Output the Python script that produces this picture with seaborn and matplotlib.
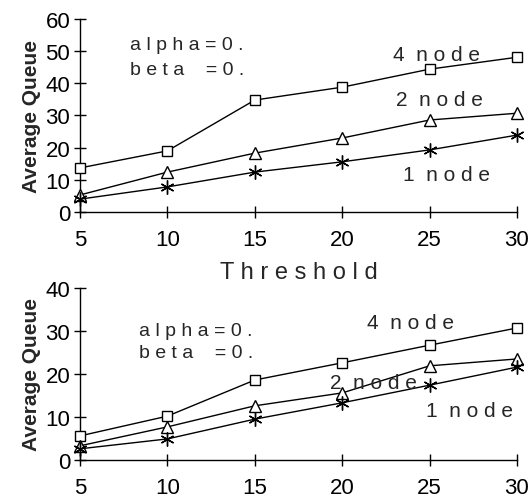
import matplotlib
matplotlib.use("Agg")
import matplotlib.pyplot as plt
import seaborn as sns
import pandas as pd

sns.set_style("ticks")
plt.rcParams['font.family'] = ['Liberation Sans', 'DejaVu Sans']

# data
threshold = [5, 10, 15, 20, 25, 30]

top_4node = [13.7, 19.0, 34.8, 38.8, 44.4, 48.1]
top_2node = [5.3, 12.4, 18.3, 23.0, 28.6, 30.7]
top_1node = [4.0, 7.8, 12.4, 15.6, 19.3, 23.9]

bot_4node = [5.6, 10.2, 18.6, 22.6, 26.7, 30.7]
bot_2node = [3.3, 7.7, 12.6, 15.6, 21.9, 23.5]
bot_1node = [2.6, 4.9, 9.5, 13.3, 17.4, 21.6]

star6 = (6, 2, 0)
markers = {'4 node': 's', '2 node': '^', '1 node': star6}
msize = {'4 node': 7.5, '2 node': 8.5, '1 node': 10}


def draw(ax, s4, s2, s1, ymax, labels, params):
    df = pd.DataFrame({
        'Threshold': threshold * 3,
        'Average Queue': s4 + s2 + s1,
        'series': ['4 node'] * 6 + ['2 node'] * 6 + ['1 node'] * 6,
    })
    for name, mk in markers.items():
        sub = df[df['series'] == name]
        sns.lineplot(data=sub, x='Threshold', y='Average Queue', ax=ax,
                     color='black', lw=1, marker=mk, markersize=msize[name],
                     markerfacecolor='white', markeredgecolor='black',
                     markeredgewidth=1, clip_on=False, zorder=3)
    ax.set_xlim(5, 30)
    ax.set_ylim(0, ymax)
    ax.set_xticks(threshold)
    ax.set_yticks(range(0, ymax + 1, 10))
    sns.despine(ax=ax)
    for sp in ax.spines.values():
        sp.set_color('black')
        sp.set_linewidth(1)
    ax.tick_params(direction='inout', length=8, width=1, colors='black',
                   labelsize=16, pad=3)
    ax.tick_params(axis='x', pad=8)
    ax.set_ylabel('Average Queue', fontsize=15, fontweight='bold', labelpad=3)
    ax.set_xlabel('')
    for (x, y, t) in labels:
        ax.text(x, y, t, fontsize=15, va='center', ha='left')
    for (x, y, t) in params:
        ax.text(x, y, t, fontsize=14, va='center', ha='left')


fig = plt.figure(figsize=(5.31, 5.02), dpi=100)
ax1 = fig.add_axes([0.1507, 0.5757, 0.8229, 0.3845])
ax2 = fig.add_axes([0.1507, 0.0817, 0.8229, 0.3426])

draw(ax1, top_4node, top_2node, top_1node, 60,
     [(22.9, 49.0, '4  n o d e'), (23.1, 35.1, '2  n o d e'), (23.5, 11.8, '1  n o d e')],
     [(7.86, 52.2, 'a l p h a = 0 .'), (7.86, 44.4, 'b e t a    = 0 .')])
ax1.set_xlabel('T h r e s h o l d', fontsize=17, labelpad=8)

draw(ax2, bot_4node, bot_2node, bot_1node, 40,
     [(21.4, 31.9, '4  n o d e'), (19.3, 18.1, '2  n o d e'), (24.8, 11.4, '1  n o d e')],
     [(8.4, 30.2, 'a l p h a = 0 .'), (8.4, 25.1, 'b e t a    = 0 .')])

fig.savefig('out.png', dpi=100)
